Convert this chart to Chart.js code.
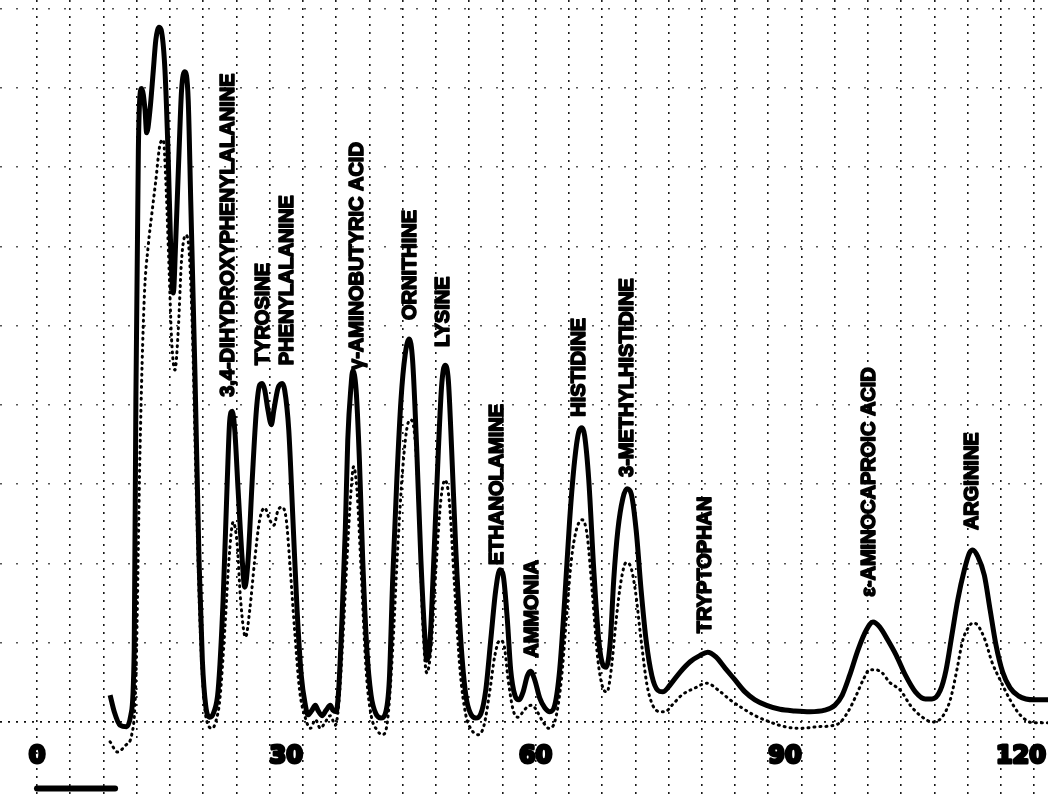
<!DOCTYPE html>
<html>
<head>
<meta charset="utf-8">
<script src="https://cdn.jsdelivr.net/npm/chart.js@4.4.0/dist/chart.umd.min.js"></script>
<style>
  html, body { margin: 0; padding: 0; background: #fff; }
  #wrap { width: 1048px; height: 797px; }
</style>
</head>
<body>
<div id="wrap"><canvas id="chart" width="1048" height="797"></canvas></div>
<script>
// Solid trace: retention time (min) and recorder deflection (chart divisions x10)
const mainTime = [8.8, 9.3, 10.0, 10.8, 11.3, 11.7, 11.9, 12.2, 12.4, 12.6, 13.0, 13.2, 13.6, 14.0, 14.3, 14.7, 15.0, 15.4, 15.8, 16.1,
  16.4, 16.7, 17.1, 17.4, 17.8, 18.2, 18.5, 19.0, 19.5, 19.9, 20.3, 20.8, 21.3, 21.8, 22.4, 22.9, 23.2, 23.5, 23.8, 24.2,
  24.7, 25.0, 25.4, 25.9, 26.4, 26.8, 27.1, 27.4, 27.8, 28.2, 28.5, 29.0, 29.5, 29.8, 30.3, 30.8, 31.3, 31.8, 32.3, 32.6,
  33.1, 33.5, 33.8, 34.3, 34.8, 35.3, 35.6, 36.0, 36.3, 36.7, 37.1, 37.4, 37.8, 38.0, 38.4, 38.8, 39.2, 39.7, 40.2, 40.8,
  41.4, 41.9, 42.4, 42.8, 43.3, 43.8, 44.3, 44.8, 45.2, 45.7, 46.2, 46.7, 46.9, 47.3, 47.8, 48.3, 48.7, 49.1, 49.5, 49.9,
  50.4, 51.0, 51.6, 52.2, 52.8, 53.4, 54.0, 54.6, 55.2, 55.7, 56.1, 56.6, 57.0, 57.5, 58.0, 58.5, 59.0, 59.4, 59.9, 60.5,
  61.1, 61.7, 62.3, 62.9, 63.5, 64.1, 64.7, 65.2, 65.6, 65.9, 66.4, 67.0, 67.6, 68.1, 68.5, 69.0, 69.4, 69.9, 70.5, 71.0,
  71.5, 72.1, 72.7, 73.3, 74.0, 74.7, 75.3, 76.2, 77.4, 78.6, 79.8, 80.7, 81.7, 82.8, 84.0, 85.2, 86.4, 87.8, 89.4, 91.2,
  93.0, 94.8, 96.0, 96.9, 97.8, 98.8, 99.8, 100.6, 101.4, 102.4, 103.4, 104.5, 105.7, 106.9, 107.7, 108.7, 109.4, 110.1, 110.8, 111.6,
  112.2, 112.6, 113.2, 114.0, 114.7, 115.4, 116.2, 117.1, 118.1, 119.0, 120.1, 121.7];
const mainAbs = [3.4, 1.3, -0.4, -0.6, 0.9, 9.1, 40.6, 72.1, 79.1, 79.9, 77.2, 74.3, 77.2, 82.2, 86.0, 87.6, 87.0, 82.2, 70.9, 59.5,
  54.1, 60.8, 72.1, 79.7, 82.0, 78.4, 65.8, 44.4, 20.4, 7.8, 2.1, 0.6, 1.3, 4.0, 15.4, 30.5, 38.1, 39.2, 36.8, 29.3,
  20.4, 17.0, 20.4, 30.5, 39.3, 42.5, 42.7, 41.9, 39.3, 37.5, 39.3, 42.1, 42.7, 41.9, 36.8, 25.5, 14.1, 5.9, 2.1, 0.9,
  1.5, 2.1, 1.5, 0.8, 1.5, 2.1, 1.5, 1.3, 4.0, 12.9, 24.2, 35.6, 42.5, 44.3, 41.9, 33.0, 20.4, 9.1, 3.4, 1.0,
  0.5, 1.0, 5.3, 17.9, 30.5, 40.6, 46.3, 48.3, 45.6, 34.3, 20.4, 10.3, 7.8, 10.3, 21.7, 34.3, 42.5, 45.0, 43.1, 34.3,
  21.7, 10.3, 3.4, 1.0, 0.5, 1.0, 4.0, 10.3, 16.6, 19.2, 18.5, 12.9, 6.6, 3.4, 2.8, 3.8, 5.8, 6.4, 5.3, 3.0,
  1.8, 1.3, 2.1, 6.6, 15.4, 25.5, 33.0, 36.6, 37.1, 36.1, 30.5, 19.2, 10.3, 7.2, 6.9, 10.3, 17.9, 24.2, 28.2, 29.4,
  28.8, 24.2, 16.6, 10.3, 5.8, 4.0, 3.8, 4.7, 6.3, 7.6, 8.4, 8.8, 8.2, 6.8, 5.3, 3.8, 2.8, 2.1, 1.6, 1.4,
  1.3, 1.5, 2.1, 3.4, 5.9, 9.1, 11.6, 12.6, 12.0, 10.3, 8.4, 5.9, 3.8, 2.9, 2.9, 4.0, 6.6, 11.0, 15.4, 19.2,
  21.3, 21.7, 20.9, 18.5, 14.1, 9.7, 6.3, 4.3, 3.3, 2.9, 2.8, 2.8];

// Dotted trace (second channel)
const dotTime = [8.8, 9.7, 10.7, 11.4, 11.9, 12.4, 12.9, 13.4, 13.8, 14.3, 14.8, 15.2, 15.5, 15.9, 16.2, 16.6, 17.0, 17.4, 17.9, 18.3,
  18.7, 19.1, 19.6, 20.1, 20.6, 21.1, 21.5, 22.0, 22.6, 23.1, 23.6, 24.1, 24.5, 25.1, 25.6, 26.2, 26.8, 27.4, 28.0, 28.5,
  29.0, 29.5, 30.0, 30.4, 31.0, 31.6, 32.3, 32.9, 33.5, 34.1, 34.7, 35.3, 35.9, 36.3, 36.8, 37.3, 37.8, 38.1, 38.5, 39.0,
  39.6, 40.2, 40.9, 41.6, 42.2, 42.8, 43.4, 44.0, 44.6, 45.0, 45.5, 46.0, 46.4, 46.9, 47.4, 48.0, 48.6, 49.1, 49.6, 50.2,
  50.9, 51.6, 52.3, 53.1, 53.8, 54.5, 55.1, 55.7, 56.2, 56.7, 57.3, 57.9, 58.5, 59.1, 59.6, 60.2, 60.9, 61.6, 62.3, 63.1,
  63.7, 64.3, 64.9, 65.6, 66.2, 66.8, 67.5, 68.1, 68.6, 69.1, 69.7, 70.3, 70.9, 71.4, 72.0, 72.7, 73.4, 74.1, 75.0, 75.6,
  76.4, 77.6, 79.2, 80.6, 82.0, 83.4, 84.8, 86.4, 88.2, 90.0, 91.8, 93.9, 95.4, 96.6, 97.6, 98.6, 99.5, 100.2, 100.8, 101.7,
  102.6, 103.9, 105.1, 106.3, 107.8, 108.9, 109.9, 110.7, 111.4, 112.2, 112.6, 113.2, 114.1, 114.9, 115.9, 117.1, 118.3, 119.9, 121.7];
const dotAbs = [-2.5, -3.8, -2.9, -1.6, 5.3, 34.3, 53.2, 60.2, 63.9, 68.3, 72.8, 73.4, 68.3, 57.0, 48.2, 44.4, 49.4, 58.3, 61.4, 59.5,
  49.4, 31.8, 12.9, 2.8, -0.4, -0.8, 0.0, 2.8, 11.6, 20.4, 25.2, 22.3, 15.4, 10.7, 14.1, 20.4, 25.5, 27.0, 25.5, 24.8,
  26.7, 27.1, 25.5, 20.4, 11.6, 4.0, 0.5, -0.8, 0.3, -0.8, 0.0, 0.8, -0.4, 2.1, 10.3, 20.4, 29.3, 32.2, 29.3, 19.2,
  6.6, 0.9, -1.0, -1.6, 0.3, 9.1, 21.7, 31.8, 37.5, 38.1, 35.6, 25.5, 12.9, 6.2, 9.1, 19.2, 28.0, 30.5, 28.0, 17.9,
  6.6, 0.9, -1.0, -1.6, -0.4, 4.0, 8.4, 10.3, 9.7, 5.3, 1.5, 0.6, 1.3, 2.0, 2.1, 1.3, 0.0, -0.8, 0.0, 5.3,
  12.9, 20.4, 24.2, 25.5, 23.6, 16.6, 7.8, 4.3, 3.8, 6.6, 12.9, 17.9, 20.1, 19.7, 16.6, 10.3, 4.7, 2.1, 1.3, 1.3,
  2.1, 3.4, 4.3, 4.9, 4.0, 2.8, 1.8, 0.8, 0.0, -0.6, -0.8, -0.6, -0.5, -0.1, 1.3, 3.4, 5.5, 6.6, 6.6, 6.2,
  5.0, 4.0, 2.1, 0.8, 0.0, 0.6, 2.8, 6.6, 10.3, 12.1, 12.5, 12.2, 10.3, 7.6, 5.3, 2.8, 0.9, -0.1, -0.1];

// Peak identifications: name, retention time, height where the label starts
const peakNames = ['3,4-DIHYDROXYPHENYLALANINE', 'TYROSINE', 'PHENYLALANINE', 'γ-AMINOBUTYRIC ACID', 'ORNITHINE', 'LYSINE',
  'ETHANOLAMINE', 'AMMONIA', 'HISTIDINE', '3-METHYLHISTIDINE', 'TRYPTOPHAN', 'ε-AMINOCAPROIC ACID', 'ARGININE'];
const peakTime = [23.1, 27.2, 30.1, 38.6, 44.9, 48.9, 55.4, 59.6, 65.3, 71.1, 80.4, 100.2, 112.6];
const peakLabelY = [41.0, 45.0, 45.0, 44.4, 50.7, 47.3, 19.8, 8.1, 38.5, 30.9, 11.2, 15.8, 24.2];

// time axis numbers (printed on the paper) and the recorder pen marker
const timeLabels = [0, 30, 60, 90, 120];
const timeLabelY = -4.4;
const markerTime = [0, 9.4];
const markerAbs = [-8.4, -8.4];

const toPoints = (xs, ys) => xs.map((x, i) => ({ x: x, y: ys[i] }));

const paperText = {
  id: 'paperText',
  afterDatasetsDraw(chart) {
    const { ctx, scales: { x, y } } = chart;
    ctx.save();
    ctx.fillStyle = '#000';
    ctx.strokeStyle = '#000';
    ctx.lineJoin = 'round';
    ctx.font = 'bold 20px "Liberation Sans", Arial, sans-serif';
    ctx.textAlign = 'left';
    ctx.textBaseline = 'middle';
    peakNames.forEach((name, i) => {
      ctx.save();
      ctx.translate(x.getPixelForValue(peakTime[i]), y.getPixelForValue(peakLabelY[i]));
      ctx.rotate(-Math.PI / 2);
      ctx.lineWidth = 1.6;
      ctx.strokeText(name, 0, 0);
      ctx.fillText(name, 0, 0);
      ctx.restore();
    });
    // numbers along the time axis; keep the last one on the paper
    ctx.font = 'bold 24px "DejaVu Sans", sans-serif';
    ctx.textAlign = 'center';
    ctx.lineWidth = 3;
    timeLabels.forEach(t => {
      const txt = String(t);
      const half = ctx.measureText(txt).width / 2 + 2;
      const px = Math.min(x.getPixelForValue(t), chart.width - half);
      const py = y.getPixelForValue(timeLabelY);
      ctx.strokeText(txt, px, py);
      ctx.fillText(txt, px, py);
    });
    ctx.restore();
  }
};

new Chart(document.getElementById('chart'), {
  type: 'line',
  data: {
    datasets: [
      {
        label: 'second channel',
        data: toPoints(dotTime, dotAbs),
        borderColor: '#000',
        borderWidth: 3,
        borderDash: [1, 5],
        borderCapStyle: 'round',
        cubicInterpolationMode: 'monotone',
        pointRadius: 0,
        fill: false
      },
      {
        label: 'main channel',
        data: toPoints(mainTime, mainAbs),
        borderColor: '#000',
        borderWidth: 5,
        borderJoinStyle: 'round',
        cubicInterpolationMode: 'monotone',
        pointRadius: 0,
        fill: false
      },
      {
        label: 'marker',
        data: toPoints(markerTime, markerAbs),
        borderColor: '#000',
        borderWidth: 6,
        borderCapStyle: 'round',
        pointRadius: 0,
        fill: false
      }
    ]
  },
  options: {
    responsive: false,
    devicePixelRatio: 1,
    animation: false,
    layout: { padding: 0 },
    plugins: {
      legend: { display: false },
      tooltip: { enabled: false }
    },
    scales: {
      x: {
        type: 'linear',
        min: -4.45,
        max: 121.66,
        afterFit: (scale) => { scale.height = 0; },
        afterBuildTicks: (scale) => {
          const ticks = [];
          for (let v = 0; v <= 120; v += 4) ticks.push({ value: v });
          scale.ticks = ticks;
        },
        ticks: { display: false },
        grid: { color: '#1a1a1a', lineWidth: 1.6, drawTicks: false },
        border: { display: false, dash: [2, 6] }
      },
      y: {
        type: 'linear',
        min: -9.46,
        max: 91.05,
        afterFit: (scale) => { scale.width = 0; },
        afterBuildTicks: (scale) => {
          const ticks = [];
          for (let v = 0; v <= 90; v += 10) ticks.push({ value: v });
          scale.ticks = ticks;
        },
        ticks: { display: false },
        grid: {
          color: (c) => c.tick && c.tick.value === 0 ? '#111' : '#555',
          lineWidth: (c) => c.tick && c.tick.value === 0 ? 1.8 : 1.4,
          drawTicks: false
        },
        border: { display: false, dash: (c) => c.tick && c.tick.value === 0 ? [2, 6] : [2, 14] }
      }
    }
  },
  plugins: [paperText]
});
</script>
</body>
</html>
